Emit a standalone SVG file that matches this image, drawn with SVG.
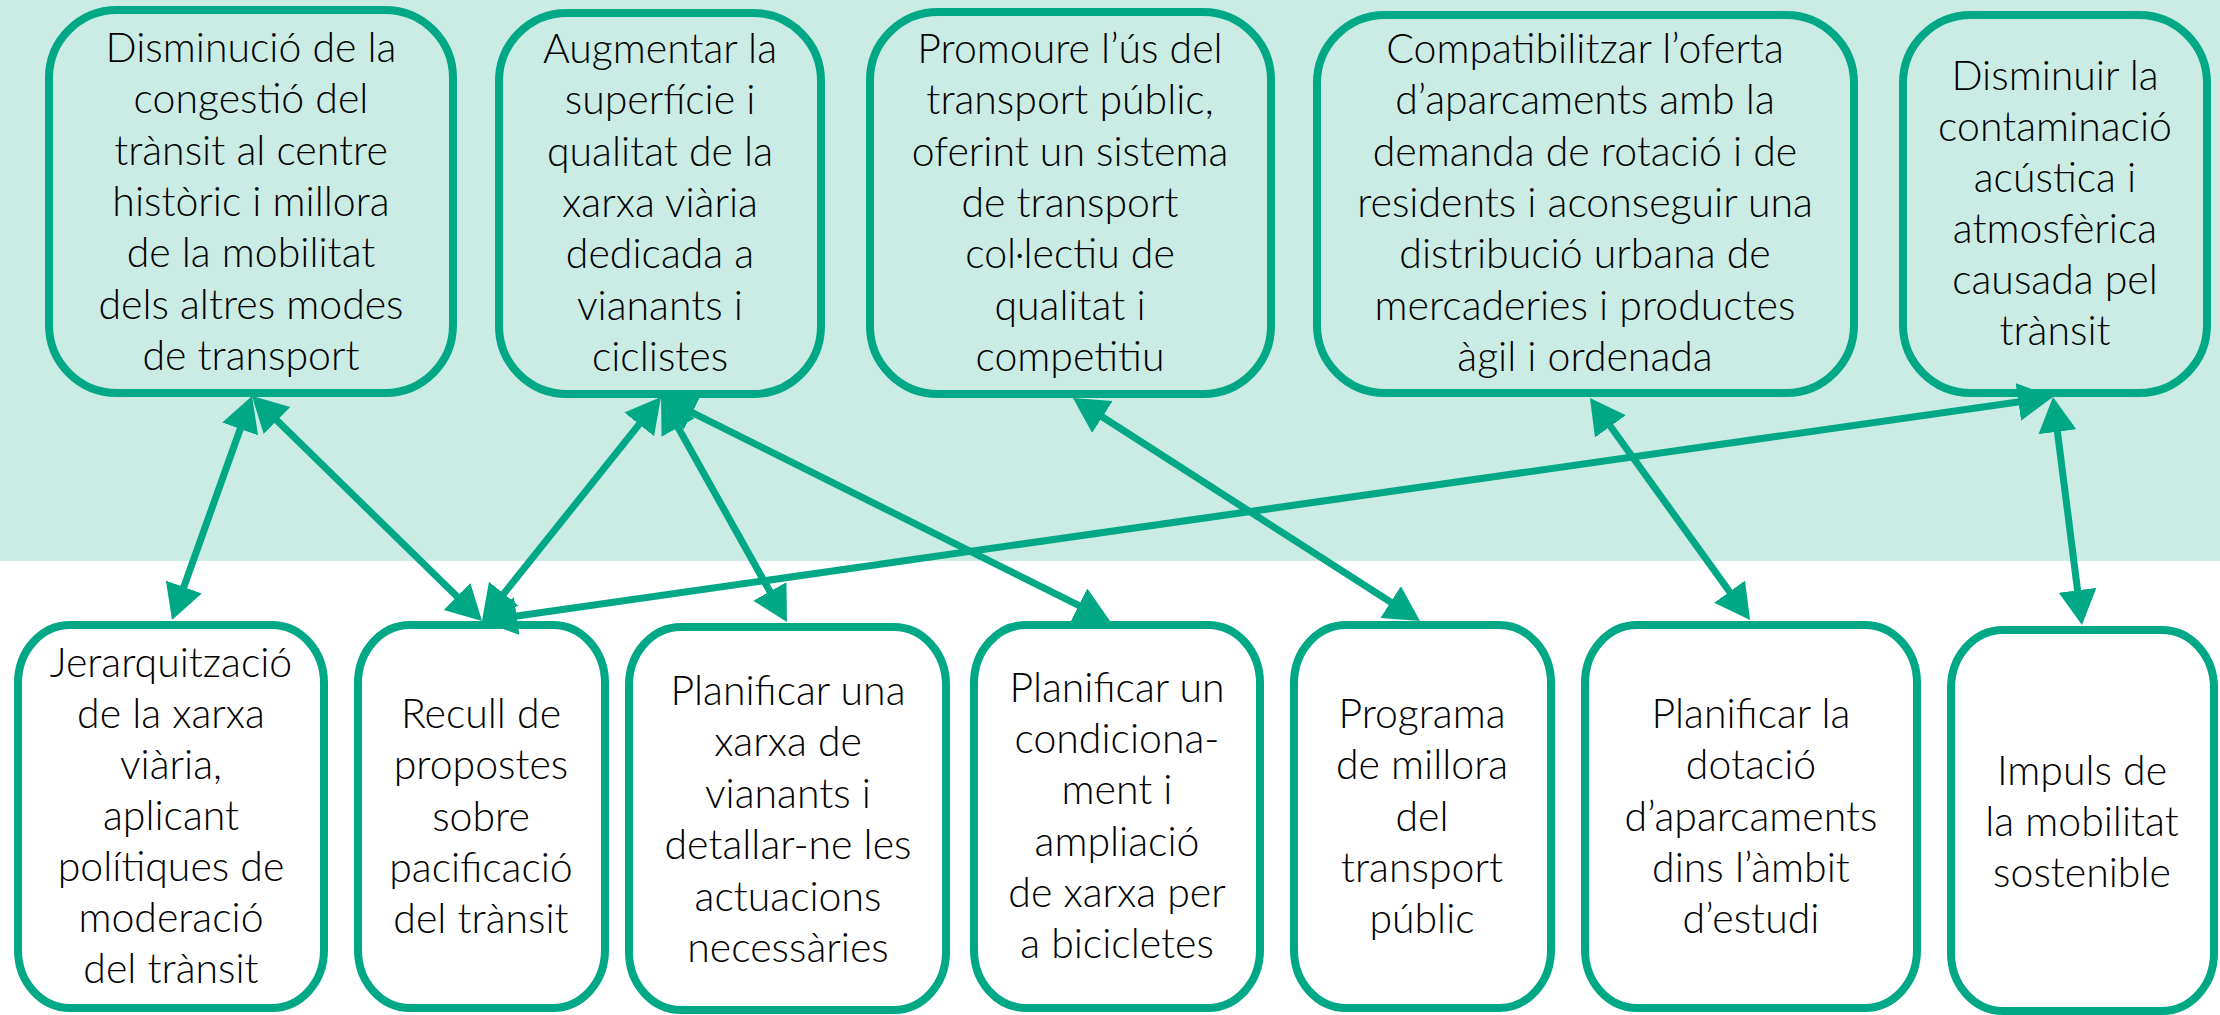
<svg xmlns="http://www.w3.org/2000/svg" width="2220" height="1015" viewBox="0 0 2220 1015">
<style>
.top rect{fill:#cbece4;stroke:#00a886;stroke-width:8}
.bot rect{fill:#ffffff;stroke:#00a886;stroke-width:8}
text{font-family:Lato,"Open Sans","Liberation Sans",sans-serif;font-size:41px;font-weight:300;fill:#000;text-anchor:middle}
.conn line{stroke:#00a886;stroke-width:7;marker-start:url(#ah);marker-end:url(#ah)}
</style>
<defs>
<marker id="ah" markerUnits="userSpaceOnUse" markerWidth="40" markerHeight="40" refX="5" refY="19" orient="auto-start-reverse" viewBox="0 0 40 40">
<path d="M0,0 L35,19 L0,38 z" fill="#00a886"/>
</marker>
</defs>
<rect x="0" y="0" width="2220" height="561" fill="#cbece4"/>
<rect x="0" y="561" width="2220" height="454" fill="#ffffff"/>

<g id="n1" class="top"><rect x="49" y="10" width="404" height="383" rx="68" ry="68"/>
<text x="251" y="62"><tspan x="251">Disminució de la</tspan><tspan x="251" dy="51.3">congestió del</tspan><tspan x="251" dy="51.3">trànsit al centre</tspan><tspan x="251" dy="51.3">històric i millora</tspan><tspan x="251" dy="51.3">de la mobilitat</tspan><tspan x="251" dy="51.3">dels altres modes</tspan><tspan x="251" dy="51.3">de transport</tspan></text></g>

<g id="n2" class="top"><rect x="499" y="13" width="322" height="381" rx="68" ry="68"/>
<text x="660" y="63"><tspan x="660">Augmentar la</tspan><tspan x="660" dy="51.3">superfície i</tspan><tspan x="660" dy="51.3">qualitat de la</tspan><tspan x="660" dy="51.3">xarxa viària</tspan><tspan x="660" dy="51.3">dedicada a</tspan><tspan x="660" dy="51.3">vianants i</tspan><tspan x="660" dy="51.3">ciclistes</tspan></text></g>

<g id="n3" class="top"><rect x="870" y="12" width="401" height="382" rx="68" ry="68"/>
<text x="1070" y="63"><tspan x="1070">Promoure l’ús del</tspan><tspan x="1070" dy="51.3">transport públic,</tspan><tspan x="1070" dy="51.3">oferint un sistema</tspan><tspan x="1070" dy="51.3">de transport</tspan><tspan x="1070" dy="51.3">col·lectiu de</tspan><tspan x="1070" dy="51.3">qualitat i</tspan><tspan x="1070" dy="51.3">competitiu</tspan></text></g>

<g id="n4" class="top"><rect x="1317" y="15" width="537" height="378" rx="68" ry="68"/>
<text x="1585" y="63"><tspan x="1585">Compatibilitzar l’oferta</tspan><tspan x="1585" dy="51.3">d’aparcaments amb la</tspan><tspan x="1585" dy="51.3">demanda de rotació i de</tspan><tspan x="1585" dy="51.3">residents i aconseguir una</tspan><tspan x="1585" dy="51.3">distribució urbana de</tspan><tspan x="1585" dy="51.3">mercaderies i productes</tspan><tspan x="1585" dy="51.3">àgil i ordenada</tspan></text></g>

<g id="n5" class="top"><rect x="1903" y="15" width="304" height="378" rx="68" ry="68"/>
<text x="2055" y="90"><tspan x="2055">Disminuir la</tspan><tspan x="2055" dy="51">contaminació</tspan><tspan x="2055" dy="51">acústica i</tspan><tspan x="2055" dy="51">atmosfèrica</tspan><tspan x="2055" dy="51">causada pel</tspan><tspan x="2055" dy="51">trànsit</tspan></text></g>

<g id="b1" class="bot"><rect x="18" y="625" width="306" height="383" rx="52" ry="58"/>
<text x="171" y="677"><tspan x="171">Jerarquització</tspan><tspan x="171" dy="51">de la xarxa</tspan><tspan x="171" dy="51">viària,</tspan><tspan x="171" dy="51">aplicant</tspan><tspan x="171" dy="51">polítiques de</tspan><tspan x="171" dy="51">moderació</tspan><tspan x="171" dy="51">del trànsit</tspan></text></g>

<g id="b2" class="bot"><rect x="358" y="625" width="247" height="383" rx="52" ry="58"/>
<text x="481" y="728"><tspan x="481">Recull de</tspan><tspan x="481" dy="51.3">propostes</tspan><tspan x="481" dy="51.3">sobre</tspan><tspan x="481" dy="51.3">pacificació</tspan><tspan x="481" dy="51.3">del trànsit</tspan></text></g>

<g id="b3" class="bot"><rect x="629" y="627" width="317" height="383" rx="52" ry="58"/>
<text x="788" y="705"><tspan x="788">Planificar una</tspan><tspan x="788" dy="51.4">xarxa de</tspan><tspan x="788" dy="51.4">vianants i</tspan><tspan x="788" dy="51.4">detallar-ne les</tspan><tspan x="788" dy="51.4">actuacions</tspan><tspan x="788" dy="51.4">necessàries</tspan></text></g>

<g id="b4" class="bot"><rect x="974" y="625" width="286" height="383" rx="52" ry="58"/>
<text x="1117" y="702"><tspan x="1117">Planificar un</tspan><tspan x="1117" dy="51.2">condiciona-</tspan><tspan x="1117" dy="51.2">ment i</tspan><tspan x="1117" dy="51.2">ampliació</tspan><tspan x="1117" dy="51.2">de xarxa per</tspan><tspan x="1117" dy="51.2">a bicicletes</tspan></text></g>

<g id="b5" class="bot"><rect x="1294" y="625" width="257" height="383" rx="52" ry="58"/>
<text x="1422" y="728"><tspan x="1422">Programa</tspan><tspan x="1422" dy="51.3">de millora</tspan><tspan x="1422" dy="51.3">del</tspan><tspan x="1422" dy="51.3">transport</tspan><tspan x="1422" dy="51.3">públic</tspan></text></g>

<g id="b6" class="bot"><rect x="1585" y="625" width="332" height="383" rx="52" ry="58"/>
<text x="1751" y="728"><tspan x="1751">Planificar la</tspan><tspan x="1751" dy="51.3">dotació</tspan><tspan x="1751" dy="51.3">d’aparcaments</tspan><tspan x="1751" dy="51.3">dins l’àmbit</tspan><tspan x="1751" dy="51.3">d’estudi</tspan></text></g>

<g id="b7" class="bot"><rect x="1951" y="630" width="263" height="381" rx="52" ry="58"/>
<text x="2082" y="785"><tspan x="2082">Impuls de</tspan><tspan x="2082" dy="51">la mobilitat</tspan><tspan x="2082" dy="51">sostenible</tspan></text></g>

<g id="connectors" class="conn">
<line x1="241.9" y1="424.3" x2="182.1" y2="591.7"/>
<line x1="273.4" y1="417.0" x2="460.6" y2="600.0"/>
<line x1="642.3" y1="420.4" x2="500.7" y2="597.6"/>
<line x1="675.7" y1="423.2" x2="772.3" y2="595.8"/>
<line x1="687.8" y1="410.4" x2="1083.2" y2="607.6"/>
<line x1="2023.3" y1="401.2" x2="511.7" y2="616.8"/>
<line x1="1098.2" y1="414.2" x2="1394.8" y2="604.8"/>
<line x1="1607.5" y1="422.3" x2="1732.5" y2="595.7"/>
<line x1="2056.8" y1="426.8" x2="2078.2" y2="595.2"/>
</g>
</svg>
